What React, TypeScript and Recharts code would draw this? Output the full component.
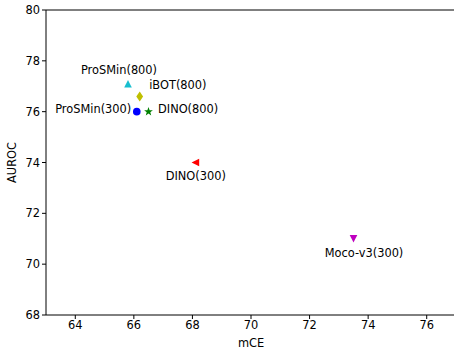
import React from 'react';
import {
  ScatterChart,
  Scatter,
  XAxis,
  YAxis,
  ReferenceLine,
} from 'recharts';

const names = ['ProSMin(800)', 'iBOT(800)', 'ProSMin(300)', 'DINO(800)', 'DINO(300)', 'Moco-v3(300)'];
const mce = [65.8, 66.2, 66.1, 66.5, 68.1, 73.5];
const auroc = [77.1, 76.6, 76.0, 76.0, 74.0, 71.0];
const xTicks = [64, 66, 68, 70, 72, 74, 76];
const yTicks = [68, 70, 72, 74, 76, 78, 80];

const FONT = '"DejaVu Sans", sans-serif';

// marker look + label placement for each point, same order as names
const markerStyles = [
  { kind: 'up', color: '#17becf', dx: -9, dy: -14, anchor: 'middle' },
  { kind: 'thinDiamond', color: '#bfbf00', dx: 9.5, dy: -11, anchor: 'start' },
  { kind: 'circle', color: '#0000ff', dx: -5.5, dy: -3, anchor: 'end' },
  { kind: 'star', color: '#008000', dx: 9.5, dy: -3, anchor: 'start' },
  { kind: 'left', color: '#ff0000', dx: 0.5, dy: 13.5, anchor: 'middle' },
  { kind: 'down', color: '#bf00bf', dx: 10.5, dy: 14.5, anchor: 'middle' },
];

const points = names.map((name, i) => ({ name, x: mce[i], y: auroc[i] }));

const Marker = (props: any) => {
  const { cx, cy, kind, color, dx, dy, anchor, payload } = props;
  const s = 3.8;
  let mark: React.ReactNode = null;
  if (kind === 'circle') {
    mark = <circle cx={cx} cy={cy} r={s} fill={color} />;
  } else if (kind === 'up') {
    mark = <polygon points={`${cx},${cy - s} ${cx - s},${cy + s} ${cx + s},${cy + s}`} fill={color} />;
  } else if (kind === 'down') {
    mark = <polygon points={`${cx},${cy + s} ${cx - s},${cy - s} ${cx + s},${cy - s}`} fill={color} />;
  } else if (kind === 'left') {
    mark = <polygon points={`${cx - s},${cy} ${cx + s},${cy - s} ${cx + s},${cy + s}`} fill={color} />;
  } else if (kind === 'thinDiamond') {
    mark = <polygon points={`${cx},${cy - 5} ${cx + 3.4},${cy} ${cx},${cy + 5} ${cx - 3.4},${cy}`} fill={color} />;
  } else if (kind === 'star') {
    const pts: string[] = [];
    for (let k = 0; k < 10; k++) {
      const r = k % 2 === 0 ? 4.6 : 1.9;
      const a = -Math.PI / 2 + (k * Math.PI) / 5;
      pts.push(`${cx + r * Math.cos(a)},${cy + r * Math.sin(a)}`);
    }
    mark = <polygon points={pts.join(' ')} fill={color} />;
  }
  return (
    <g>
      {mark}
      <text
        x={cx + dx}
        y={cy + dy}
        textAnchor={anchor}
        dominantBaseline="central"
        fontSize={11.4}
        fontFamily={FONT}
        fill="#000"
      >
        {payload.name}
      </text>
    </g>
  );
};

export default function App() {
  return (
    <div style={{ position: 'absolute', left: 0, top: 0, width: 454, height: 349, overflow: 'hidden', background: '#fff' }}>
      <ScatterChart width={456} height={349} margin={{ top: 10, right: 0, bottom: 0, left: 0 }}>
        <XAxis
          type="number"
          dataKey="x"
          domain={[63, 77]}
          ticks={xTicks}
          height={34}
          tickSize={4}
          axisLine={{ stroke: '#000' }}
          tickLine={{ stroke: '#000' }}
          tick={{ fontSize: 11.4, fill: '#000', fontFamily: FONT }}
          label={{ value: 'mCE', position: 'insideBottom', offset: 2, fontSize: 11.4, fill: '#000', fontFamily: FONT }}
        />
        <YAxis
          type="number"
          dataKey="y"
          domain={[68, 80]}
          ticks={yTicks}
          width={46}
          tickSize={4}
          axisLine={{ stroke: '#000' }}
          tickLine={{ stroke: '#000' }}
          tick={{ fontSize: 11.4, fill: '#000', fontFamily: FONT }}
          label={{ value: 'AUROC', angle: -90, position: 'insideLeft', offset: 12, fontSize: 11.4, fill: '#000', fontFamily: FONT, style: { textAnchor: 'middle' } }}
        />
        <ReferenceLine y={80} stroke="#000" />
        <ReferenceLine x={77} stroke="#000" />
        {points.map((p, i) => (
          <Scatter
            key={p.name}
            data={[p]}
            isAnimationActive={false}
            shape={(sp: any) => <Marker {...sp} {...markerStyles[i]} />}
          />
        ))}
      </ScatterChart>
    </div>
  );
}
